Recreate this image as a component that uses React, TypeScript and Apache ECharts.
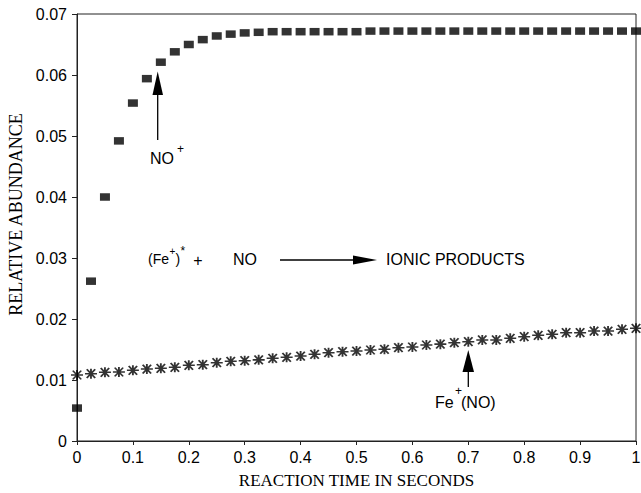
import React, { useEffect, useRef } from "react";
import * as echarts from "echarts";

const times = [
  0, 0.025, 0.05, 0.075, 0.1, 0.125, 0.15, 0.175, 0.2, 0.225,
  0.25, 0.275, 0.3, 0.325, 0.35, 0.375, 0.4, 0.425, 0.45, 0.475,
  0.5, 0.525, 0.55, 0.575, 0.6, 0.625, 0.65, 0.675, 0.7, 0.725,
  0.75, 0.775, 0.8, 0.825, 0.85, 0.875, 0.9, 0.925, 0.95, 0.975, 1.0,
];

const noPlus = [
  0.0054, 0.0262, 0.04, 0.0492, 0.0554, 0.0594, 0.0621, 0.0638, 0.065, 0.0658,
  0.0664, 0.0667, 0.0669, 0.067, 0.0671, 0.0671, 0.0671, 0.0671, 0.0671, 0.0671,
  0.0671, 0.0672, 0.0672, 0.0672, 0.0672, 0.0672, 0.0672, 0.0672, 0.0672, 0.0672,
  0.0672, 0.0672, 0.0672, 0.0672, 0.0672, 0.0672, 0.0672, 0.0672, 0.0672, 0.0672, 0.0672,
];

const feNO = [
  0.01082, 0.01103, 0.01126, 0.01131, 0.01159, 0.0118, 0.01192, 0.01208, 0.01241, 0.01251,
  0.01284, 0.01307, 0.01316, 0.0133, 0.01356, 0.01372, 0.01393, 0.01421, 0.01448, 0.01464,
  0.01475, 0.01492, 0.01503, 0.0153, 0.01541, 0.01574, 0.01588, 0.01611, 0.01628, 0.01656,
  0.01656, 0.01683, 0.0171, 0.01733, 0.01749, 0.01775, 0.01775, 0.01803, 0.01803, 0.01831, 0.01848,
];

const xTicks = ["0", "0.1", "0.2", "0.3", "0.4", "0.5", "0.6", "0.7", "0.8", "0.9", "1"];
const yTicks = ["0", "0.01", "0.02", "0.03", "0.04", "0.05", "0.06", "0.07"];

const SANS = "'Liberation Sans', Arial, Helvetica, sans-serif";
const SERIF = "'Liberation Serif', 'Times New Roman', serif";
const INK = "#000";

const asterisk =
  "path://M0,5 L10,5 M5,1 L5,9 M1.5,1.5 L8.5,8.5 M1.5,8.5 L8.5,1.5";

export default function App() {
  const ref = useRef<HTMLDivElement>(null);

  useEffect(() => {
    document.body.style.margin = "0";
    if (!ref.current) return;
    const chart = echarts.init(ref.current, undefined, { renderer: "svg" });

    const txt = (x: number, y: number, text: string, size: number, align = "left") => ({
      type: "text",
      x,
      y,
      style: {
        text,
        fontSize: size,
        fontFamily: SANS,
        fill: INK,
        align,
        verticalAlign: "middle",
      },
    });

    chart.setOption({
      animation: false,
      backgroundColor: "#fff",
      grid: {
        left: 77,
        right: 5,
        top: 14,
        bottom: 52,
        containLabel: false,
        outerBoundsMode: "none",
        show: true,
        borderColor: "#222",
        borderWidth: 1,
      },
      xAxis: {
        type: "value",
        min: 0,
        max: 1,
        interval: 0.1,
        name: "REACTION TIME IN SECONDS",
        nameLocation: "middle",
        nameGap: 31,
        nameTextStyle: { fontFamily: SERIF, fontSize: 17, color: INK },
        axisLine: { lineStyle: { color: "#222", width: 1 } },
        axisTick: { show: true, inside: false, length: 4, lineStyle: { color: "#222" } },
        splitLine: { show: false },
        axisLabel: {
          margin: 8,
          fontFamily: SANS,
          fontSize: 16,
          color: INK,
          formatter: (v: number) => xTicks[Math.round(v * 10)] ?? "",
        },
      },
      yAxis: {
        type: "value",
        min: 0,
        max: 0.07,
        interval: 0.01,
        name: "RELATIVE ABUNDANCE",
        nameLocation: "middle",
        nameGap: 49,
        nameTextStyle: {
          fontFamily: SERIF,
          fontSize: 18,
          color: INK,
          padding: [0, 0, 0, 26],
        },
        axisLine: { show: true, lineStyle: { color: "#222", width: 1 } },
        axisTick: { show: true, inside: false, length: 5, lineStyle: { color: "#222" } },
        splitLine: { show: false },
        axisLabel: {
          margin: 10,
          fontFamily: SANS,
          fontSize: 16,
          color: INK,
          formatter: (v: number) => yTicks[Math.round(v * 100)] ?? "",
        },
      },
      series: [
        {
          name: "NO+",
          type: "scatter",
          symbol: "rect",
          symbolSize: [10, 7.5],
          itemStyle: { color: INK },
          data: times.map((t, i) => [t, noPlus[i]]),
        },
        {
          name: "Fe+(NO)",
          type: "scatter",
          symbol: asterisk,
          symbolSize: [12, 10],
          itemStyle: { color: INK, borderColor: INK, borderWidth: 1.7 },
          data: times.map((t, i) => [t, feNO[i]]),
        },
      ],
      graphic: [
        // NO+ label and arrow
        { type: "line", shape: { x1: 157.7, y1: 140, x2: 157.7, y2: 94 }, style: { stroke: INK, lineWidth: 1.3 } },
        { type: "polygon", shape: { points: [[157.7, 71.5], [152.5, 95], [163, 95]] }, style: { fill: INK } },
        txt(150, 158, "NO", 16),
        txt(177, 149, "+", 12),
        // reaction
        txt(148, 259, "(Fe", 14),
        txt(169.5, 251, "+", 10),
        txt(175.5, 259, ")", 14),
        txt(180.5, 251, "*", 12),
        txt(198, 260, "+", 16, "center"),
        txt(233, 259, "NO", 16),
        { type: "line", shape: { x1: 280, y1: 260, x2: 356, y2: 260 }, style: { stroke: INK, lineWidth: 1.3 } },
        { type: "polygon", shape: { points: [[377, 260], [353, 255.5], [353, 264.5]] }, style: { fill: INK } },
        txt(386, 259, "IONIC PRODUCTS", 16),
        // Fe+(NO) label and arrow
        { type: "line", shape: { x1: 468.3, y1: 387, x2: 468.3, y2: 370 }, style: { stroke: INK, lineWidth: 1.3 } },
        { type: "polygon", shape: { points: [[468.3, 350], [462.5, 372], [474, 372]] }, style: { fill: INK } },
        txt(435, 402, "Fe", 16),
        txt(455, 391, "+", 12),
        txt(461, 402, "(NO)", 16),
      ],
    });

    return () => chart.dispose();
  }, []);

  return <div ref={ref} style={{ width: 641, height: 493 }} />;
}
